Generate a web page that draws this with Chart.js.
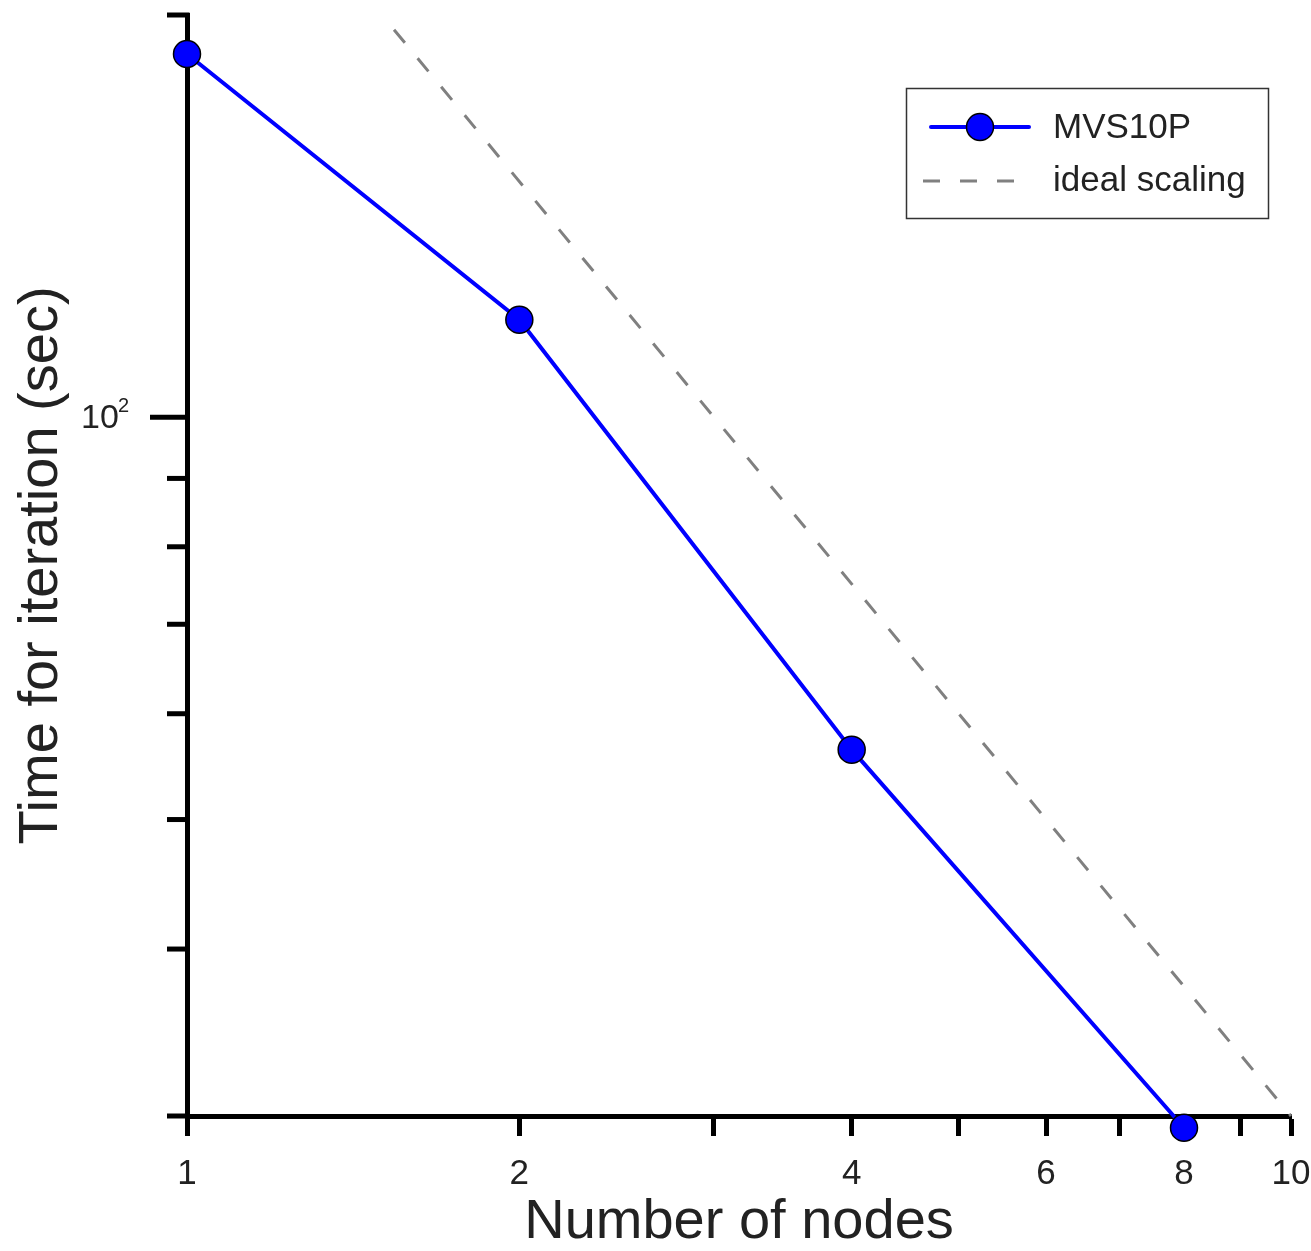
<!DOCTYPE html>
<html><head><meta charset="utf-8">
<script src="https://cdn.jsdelivr.net/npm/chart.js@4"></script>
<style>html,body{margin:0;padding:0;background:#fff;overflow:hidden}</style>
</head><body>
<canvas id="c" width="1311" height="1251" style="width:1311px;height:1251px;display:block"></canvas>
<script>
// ---- data ----
const nodes = [1, 2, 4, 8];
const mvs10pTime = [187.0, 118.3, 56.4, 29.4];
const idealNodes = [1.54, 10];
const idealTime = [195, 30];
const xTickValues = [1, 2, 3, 4, 5, 6, 7, 8, 9, 10];
const xTickLabels = ['1', '2', '', '4', '', '6', '', '8', '', '10'];
const yTickValues = [30, 40, 50, 60, 70, 80, 90, 100, 200];
const yMajorTicks = [100];
const seriesNames = ['MVS10P', 'ideal scaling'];
const xTitle = 'Number of nodes';
const yTitle = 'Time for iteration (sec)';

const FONT = '"Liberation Sans", Arial, sans-serif';
const BLUE = '#0000ff';
const GRAY = '#808080';

const extrasPlugin = {
  id: 'extras',
  afterDraw(chart) {
    const ctx = chart.ctx, ca = chart.chartArea, y = chart.scales.y;
    ctx.save();
    // y ticks
    ctx.strokeStyle = '#000';
    ctx.lineWidth = 5;
    ctx.lineCap = 'butt';
    yTickValues.forEach(v => {
      const py = y.getPixelForValue(v);
      const len = yMajorTicks.includes(v) ? 37 : 20;
      ctx.beginPath();
      ctx.moveTo(ca.left - len, py);
      ctx.lineTo(ca.left + 2.5, py);
      ctx.stroke();
    });
    // y major label 10^2
    yMajorTicks.forEach(v => {
      const py = y.getPixelForValue(v);
      const exp = String(Math.round(Math.log10(v)));
      ctx.fillStyle = '#222';
      ctx.textBaseline = 'middle';
      ctx.textAlign = 'left';
      ctx.font = '34px ' + FONT;
      ctx.fillText('10', 81, py + 1);
      ctx.font = '20px ' + FONT;
      ctx.fillText(exp, 118, py - 11);
    });
    // legend
    ctx.lineWidth = 1.5;
    ctx.strokeStyle = '#333';
    ctx.strokeRect(906.5, 88.5, 362, 130);
    ctx.lineCap = 'round';
    ctx.strokeStyle = BLUE;
    ctx.lineWidth = 4;
    ctx.beginPath(); ctx.moveTo(931, 127); ctx.lineTo(1029, 127); ctx.stroke();
    ctx.beginPath(); ctx.arc(980, 127, 13.5, 0, Math.PI * 2);
    ctx.fillStyle = BLUE; ctx.fill();
    ctx.lineWidth = 1.5; ctx.strokeStyle = '#000'; ctx.stroke();
    ctx.lineCap = 'butt';
    ctx.setLineDash([17, 20]);
    ctx.strokeStyle = GRAY; ctx.lineWidth = 3;
    ctx.beginPath(); ctx.moveTo(923, 181); ctx.lineTo(1014, 181); ctx.stroke();
    ctx.setLineDash([]);
    ctx.fillStyle = '#222';
    ctx.font = '35px ' + FONT;
    ctx.textAlign = 'left';
    ctx.textBaseline = 'middle';
    ctx.fillText(seriesNames[0], 1053, 128);
    ctx.fillText(seriesNames[1], 1053, 181);
    ctx.restore();
  }
};

new Chart(document.getElementById('c'), {
  type: 'line',
  data: {
    datasets: [
      {
        label: seriesNames[0],
        data: nodes.map((n, i) => ({x: n, y: mvs10pTime[i]})),
        borderColor: BLUE,
        backgroundColor: BLUE,
        borderWidth: 4,
        pointRadius: 13.5,
        pointBorderWidth: 1.5,
        pointBorderColor: '#000',
        pointBackgroundColor: BLUE,
        tension: 0,
        clip: false
      },
      {
        label: seriesNames[1],
        data: idealNodes.map((n, i) => ({x: n, y: idealTime[i]})),
        borderColor: GRAY,
        borderWidth: 3,
        borderDash: [17, 20],
        pointRadius: 0,
        tension: 0,
        clip: false
      }
    ]
  },
  options: {
    responsive: false,
    animation: false,
    devicePixelRatio: 1,
    layout: {padding: {top: 14, right: 20, left: 0, bottom: 0}},
    plugins: {legend: {display: false}, tooltip: {enabled: false}},
    scales: {
      x: {
        type: 'logarithmic',
        min: 1, max: 10,
        afterBuildTicks(scale) { scale.ticks = xTickValues.map(v => ({value: v})); },
        afterFit(scale) { scale.height = 135; scale.paddingLeft = 0; scale.paddingRight = 0; },
        ticks: {
          autoSkip: false, maxRotation: 0, padding: 17,
          color: '#222',
          font: {family: FONT, size: 35},
          callback(value, index) { return xTickLabels[index]; }
        },
        grid: {drawOnChartArea: false, tickLength: 20, tickWidth: 5, tickColor: '#000'},
        border: {display: true, color: '#000', width: 5},
        title: {display: true, text: xTitle, color: '#222',
          font: {family: FONT, size: 56, lineHeight: 1}, padding: {top: 0, bottom: 0}}
      },
      y: {
        type: 'logarithmic',
        min: 30, max: 200,
        afterBuildTicks(scale) { scale.ticks = yTickValues.map(v => ({value: v})); },
        afterFit(scale) { scale.width = 187; scale.paddingTop = 0; scale.paddingBottom = 0; },
        ticks: {display: false},
        grid: {display: false},
        border: {display: true, color: '#000', width: 5},
        title: {display: true, text: yTitle, color: '#222',
          font: {family: FONT, size: 56, lineHeight: 1}, padding: {top: 14, bottom: 0}}
      }
    }
  },
  plugins: [extrasPlugin]
});
</script>
</body></html>
